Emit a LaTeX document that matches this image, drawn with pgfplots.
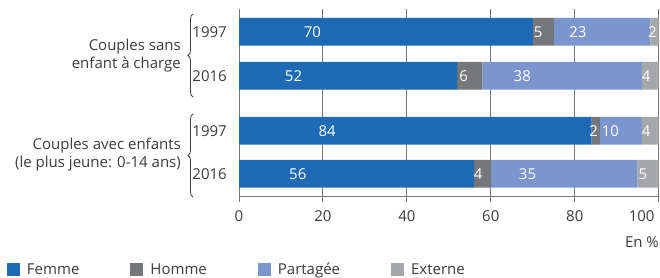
\documentclass[border=0pt]{standalone}
\usepackage{fontspec}
\setmainfont{Open Sans}
\usepackage{pgfplots}
\usepackage{pgfplotstable}
\pgfplotsset{compat=1.18}
\usetikzlibrary{decorations.pathreplacing}
\definecolor{femme}{RGB}{31,106,180}
\definecolor{homme}{RGB}{118,119,123}
\definecolor{partagee}{RGB}{123,150,204}
\definecolor{externe}{RGB}{166,167,170}
\definecolor{gridgray}{RGB}{120,120,120}
\definecolor{textgray}{RGB}{60,60,60}
\newcommand{\fs}{\fontsize{15bp}{18bp}\selectfont}
\pgfplotstableread{
y femme homme partagee externe
-31.8 70 5 23 2
-75.8 52 6 38 4
-130.8 84 2 10 4
-173.8 56 4 35 5
}\data
\begin{document}
\fs
\begin{tikzpicture}
\useasboundingbox (0,0) rectangle (660bp,-278bp);
\begin{axis}[
  at={(239bp,-196.7bp)}, anchor=south west,
  scale only axis, width=419.7bp, height=187.4bp,
  xmin=0, xmax=100, ymin=-196.7, ymax=-9.3,
  xbar stacked, bar width=27.7,
  axis x line*=bottom, axis y line*=left,
  y axis line style={draw=none},
  x axis line style={draw=gridgray, line width=1bp},
  xtick={0,20,40,60,80},
  extra x ticks={100},
  extra x tick style={xticklabel style={anchor=north east, xshift=1bp}},
  xmajorgrids, grid style={gridgray, line width=1bp},
  tick align=outside, major tick length=5bp,
  xtick style={gridgray, line width=1bp},
  xticklabel style={yshift=-4bp},
  ytick={-31.8,-75.8,-130.8,-173.8},
  yticklabels={1997,2016,1997,2016},
  ytick style={draw=none},
  yticklabel style={inner sep=0pt, xshift=-7bp},
  tick label style={text=textgray, font=\fs},
  /pgf/number format/assume math mode=true,
  point meta=explicit symbolic,
  nodes near coords={\pgfplotspointmeta},
  every node near coord/.append style={anchor=center, text=white, inner sep=0pt,
     font=\fs, xshift={-1.04925bp*\pgfplotspointmeta}},
  legend columns=4,
  legend style={draw=none, fill=none, inner sep=0pt, outer sep=0pt,
     at={(axis description cs:-0.5528,-0.39)}, anchor=west,
     font=\fs, text=textgray,
     nodes={inner sep=0pt},
     /tikz/every odd column/.append style={column sep=7bp},
     /tikz/every even column/.append style={column sep=51bp}},
  sq/.style={legend image code/.code={\fill[##1] (0bp,-6.5bp) rectangle (13bp,6.5bp);}},
]
\addplot[fill=femme, draw=none, sq] table[x=femme, y=y, meta=femme] {\data};
\addplot[fill=homme, draw=none, sq] table[x=homme, y=y, meta=homme] {\data};
\addplot[fill=partagee, draw=none, sq] table[x=partagee, y=y, meta=partagee] {\data};
\addplot[fill=externe, draw=none, sq] table[x=externe, y=y, meta=externe] {\data};
\legend{Femme, Homme, Partagée, Externe}
\end{axis}
\draw[decorate, decoration={brace, amplitude=5bp}, textgray, line width=0.8bp] (193bp,-97bp) -- (193bp,-14bp);
\draw[decorate, decoration={brace, amplitude=5bp}, textgray, line width=0.8bp] (193bp,-197bp) -- (193bp,-114bp);
\node[anchor=east, align=right, text=textgray, inner sep=0pt] at (181bp,-56bp) {Couples sans\\enfant à charge};
\node[anchor=east, align=right, text=textgray, inner sep=0pt] at (181bp,-155bp) {Couples avec enfants\\(le plus jeune: 0-14 ans)};
\node[anchor=base east, inner sep=0pt, text=textgray] at (659bp,-247bp) {En \%};
\end{tikzpicture}
\end{document}
